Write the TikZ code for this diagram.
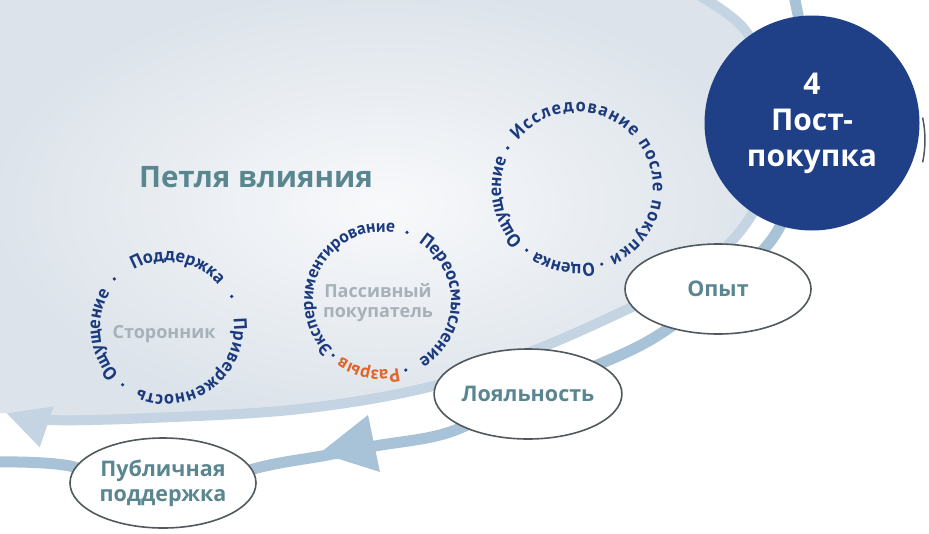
\documentclass[tikz,border=0pt]{standalone}
\usepackage{fontspec}
\setmainfont{Open Sans}
\newfontfamily\ringfamily{PT Sans}
\usepackage{tikz}
\usetikzlibrary{shapes.geometric,decorations.text,arrows.meta,backgrounds}

\definecolor{postblue}{HTML}{1F3F87}
\definecolor{ringblue}{HTML}{1B3A7E}
\definecolor{tealtext}{HTML}{5A8690}
\definecolor{greytext}{HTML}{A6B1B8}
\definecolor{orangetext}{HTML}{E0662A}
\definecolor{edgegrey}{HTML}{50595D}
\definecolor{bandlight}{HTML}{C4D4E2}
\definecolor{banddark}{HTML}{A8C2D8}
\definecolor{discin}{HTML}{F8F9FB}
\definecolor{discout}{HTML}{DCE3EA}

\newcommand{\ringfont}{\ringfamily\fontsize{18.5}{19}\selectfont\bfseries}
\newcommand{\ringfontat}[1]{\ringfamily\fontsize{#1}{19}\selectfont\bfseries}
\newcommand{\ringword}[4][ringblue]{%
  \path[decorate, decoration={text along path, text align=center, text={|\ringfont\color{#1}|#4}}]
    (#2+130:#3) arc[start angle=#2+130, end angle=#2-130, radius=#3];}
\newcommand{\ringfit}[5][ringblue]{%
  \path[decorate, decoration={text along path, text align={fit to path}, text={|\ringfont\color{#1}|#5}}]
    (#2:#4) arc[start angle=#2, end angle=#3, radius=#4];}

\tikzset{
  bubble/.style={ellipse, draw=edgegrey, line width=1.6pt, fill=white, minimum width=186pt, minimum height=90pt, inner sep=0pt, align=center, text=tealtext, font=\fontsize{21.5}{25}\selectfont\bfseries},
  postcircle/.style={circle, fill=postblue, minimum size=215pt, inner sep=0pt, align=center, text=white, font=\fontsize{30}{36}\selectfont\bfseries},
  headline/.style={text=tealtext, font=\fontsize{29.5}{31}\selectfont\bfseries},
  rolelabel/.style={text=greytext, align=center, font=\fontsize{18}{20}\selectfont\bfseries},
  bandone/.style={draw=bandlight, line width=10pt},
  bandtwo/.style={draw=banddark, line width=11pt},
}

\begin{document}
\begin{tikzpicture}[x=1pt,y=1pt,yscale=-1,xscale=1]
\useasboundingbox (0,0) rectangle (929,533);

\node[postcircle] (post) at (812,123) {4\\Пост-\\покупка};
\node[bubble] (opyt) at (718,289) {Опыт};
\node[bubble] (loyal) at (528,394) {Лояльность};
\node[bubble] (public) at (163,483) {Публичная\\поддержка};
\node[headline] (loop) at (256,177) {Петля влияния};
\node[rolelabel, anchor=base] (side) at (164,338) {Сторонник};
\node[rolelabel] (passive) at (378,303) {Пассивный\\покупатель};

\begin{scope}[on background layer]
\fill[white] (0,0) rectangle (929,533);
\shade[inner color=discin, outer color=discout] plot[smooth, tension=0.6] coordinates {(686,-12) (745,30) (772,100) (768,170) (745,225) (690,278) (630,308) (540,348) (433,386) (300,409) (150,418) (48,420) (6,413)} -- (-12,413) -- (-12,-12) -- cycle;
\draw[bandone, -{Triangle[length=43pt,width=40pt]}] plot[smooth, tension=0.6] coordinates {(686,-12) (745,30) (772,100) (768,170) (745,225) (690,278) (630,308) (540,348) (433,386) (300,409) (150,418) (48,420) (6,413)};
\draw[bandtwo] plot[smooth, tension=0.55] coordinates {(792,-14) (post.center) (778,230) (opyt.center) (645,343) (loyal.center) (450,432) (375,446) (322,456) (257,468) ([yshift=14pt]public.center) (70,466) (-14,462)};
\fill[banddark] (368,415) -- (380,472) -- (320,453) -- cycle;
\draw[edgegrey, line width=1.5pt] (922.6,117.5) arc[start angle=-12, end angle=12, radius=108];
\end{scope}

\begin{scope}[shift={(167,328)}, yscale=-1]
\ringword{186}{67}{Ощущение}
\ringword{80}{67}{Поддержка}
\ringfit{8}{-115}{67}{Приверженность}
\foreach \a in {232,137,26} \fill[ringblue] (\a:72) circle (1.8);
\end{scope}

\begin{scope}[shift={(382,301)}, yscale=-1]
\ringword{152}{69}{|\ringfontat{17.5}\color{ringblue}|Экспериментирование}
\ringword{0}{69}{Переосмысление}
\ringword[orangetext]{-101}{69}{Разрыв}
\foreach \a in {70,-71,-132} \fill[ringblue] (\a:73) circle (1.8);
\end{scope}

\begin{scope}[shift={(577,188)}, yscale=-1]
\ringfit{141}{-65}{76}{Исследование после покупки}
\ringword{-100}{76}{Оценка}
\ringword{191}{76}{Ощущение}
\foreach \a in {150,-72,-129} \fill[ringblue] (\a:80) circle (1.8);
\end{scope}
\end{tikzpicture}
\end{document}
